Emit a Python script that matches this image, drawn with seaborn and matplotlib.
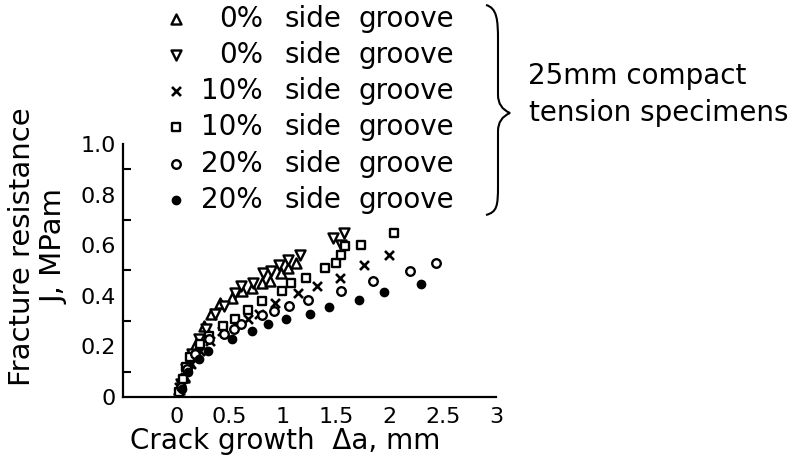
import matplotlib
matplotlib.use("Agg")
import matplotlib.pyplot as plt
from matplotlib.path import Path
from matplotlib.patches import PathPatch
from matplotlib.ticker import MultipleLocator
import seaborn as sns
import pandas as pd

# ---- data (crack growth in mm, J in MPa m) ----
tri_up_x = [0.03, 0.07, 0.12, 0.18, 0.26, 0.33, 0.41, 0.52, 0.62, 0.71, 0.80, 0.88, 0.98, 1.05, 1.12]
tri_up_y = [0.03, 0.08, 0.14, 0.20, 0.28, 0.33, 0.37, 0.39, 0.42, 0.43, 0.45, 0.46, 0.49, 0.51, 0.53]

tri_dn_x = [0.04, 0.09, 0.15, 0.21, 0.28, 0.36, 0.45, 0.55, 0.61, 0.72, 0.81, 0.89, 0.96, 1.05, 1.16, 1.47, 1.55, 1.57]
tri_dn_y = [0.05, 0.11, 0.17, 0.23, 0.27, 0.33, 0.36, 0.41, 0.44, 0.45, 0.49, 0.50, 0.52, 0.54, 0.56, 0.63, 0.60, 0.65]

cross_x = [0.03, 0.08, 0.14, 0.22, 0.32, 0.43, 0.55, 0.67, 0.78, 0.93, 1.14, 1.32, 1.54, 1.76, 2.00]
cross_y = [0.04, 0.08, 0.13, 0.18, 0.22, 0.26, 0.29, 0.31, 0.33, 0.37, 0.41, 0.44, 0.47, 0.52, 0.56]

square_x = [0.03, 0.06, 0.09, 0.13, 0.22, 0.31, 0.44, 0.55, 0.67, 0.80, 0.99, 1.08, 1.22, 1.40, 1.50, 1.55, 1.58, 1.73, 2.04]
square_y = [0.02, 0.07, 0.12, 0.16, 0.21, 0.24, 0.28, 0.31, 0.345, 0.38, 0.42, 0.45, 0.47, 0.51, 0.53, 0.56, 0.595, 0.60, 0.65]

ocirc_x = [0.04, 0.10, 0.18, 0.31, 0.45, 0.54, 0.61, 0.80, 0.92, 1.06, 1.24, 1.55, 1.85, 2.19, 2.44]
ocirc_y = [0.04, 0.11, 0.17, 0.23, 0.25, 0.27, 0.29, 0.325, 0.34, 0.36, 0.385, 0.42, 0.46, 0.50, 0.53]

fcirc_x = [0.05, 0.11, 0.21, 0.30, 0.52, 0.71, 0.86, 1.03, 1.25, 1.43, 1.71, 1.95, 2.30]
fcirc_y = [0.03, 0.10, 0.15, 0.18, 0.23, 0.26, 0.29, 0.31, 0.33, 0.355, 0.385, 0.415, 0.445]

legend_pct = ["0%", "0%", "10%", "10%", "20%", "20%"]
legend_w1 = "side"
legend_w2 = "groove"
x_ticks = [0, 0.5, 1, 1.5, 2, 2.5, 3]
x_tick_labels = ["0", "0.5", "1", "1.5", "2", "2.5", "3"]
y_ticks = [0, 0.2, 0.4, 0.6, 0.8, 1.0]
y_tick_labels = ["0", "0.2", "0.4", "0.6", "0.8", "1.0"]

sns.set_style("white")
plt.rcParams['font.family'] = ['DejaVu Sans']
plt.rcParams['text.color'] = 'black'
plt.rcParams['axes.labelcolor'] = 'black'
plt.rcParams['xtick.color'] = 'black'
plt.rcParams['ytick.color'] = 'black'

W, H = 806, 461
fig = plt.figure(figsize=(W / 100, H / 100), dpi=100)
ax = fig.add_axes([123 / W, 1 - 397 / H, (496 - 123) / W, (397 - 144) / H])

series = [
    (tri_up_x, tri_up_y, "^", "white", 52),
    (tri_dn_x, tri_dn_y, "v", "white", 52),
    (cross_x, cross_y, "x", "black", 42),
    (square_x, square_y, "s", "white", 40),
    (ocirc_x, ocirc_y, "o", "white", 38),
    (fcirc_x, fcirc_y, "o", "black", 28),
]
for xs, ys, m, fc, s in series:
    df = pd.DataFrame({"x": xs, "y": ys})
    if m == "x":
        sns.scatterplot(data=df, x="x", y="y", ax=ax, marker=m, color="black",
                        s=s, linewidth=1.9, zorder=3)
    else:
        sns.scatterplot(data=df, x="x", y="y", ax=ax, marker=m, facecolor=fc,
                        edgecolor="black", s=s, linewidth=1.7, zorder=3)

ax.set_xlim(-0.5, 3.0)
ax.set_ylim(0, 1.0)
ax.set_xticks(x_ticks)
ax.set_xticklabels(x_tick_labels)
ax.set_yticks(y_ticks)
ax.set_yticklabels(y_tick_labels)
ax.yaxis.set_minor_locator(MultipleLocator(0.1))
for sp in ["top", "right"]:
    ax.spines[sp].set_visible(False)
for sp in ["left", "bottom"]:
    ax.spines[sp].set_linewidth(1.6)
    ax.spines[sp].set_color("black")
ax.tick_params(axis="x", direction="in", length=8, width=1.5, labelsize=16, pad=7)
ax.tick_params(axis="y", which="major", direction="in", length=6, width=1.5, labelsize=16, pad=5)
ax.tick_params(axis="y", which="minor", direction="in", length=6, width=1.5, left=True)

ax.set_xlabel("Crack growth  Δa, mm", fontsize=20, va="center")
ax.xaxis.set_label_coords((285 - 123) / 373, -(441 - 397) / 253)
ax.set_ylabel("Fracture resistance\nJ, MPam", fontsize=21, linespacing=1.2, va="center")
ax.yaxis.set_label_coords(-(123 - 38) / 373, (397 - 247) / 253)

# ---- overlay for legend, brace and annotation (pixel coords) ----
ov = fig.add_axes([0, 0, 1, 1], facecolor="none")
ov.set_xlim(0, W)
ov.set_ylim(H, 0)
ov.axis("off")

rows_y = [19, 55, 91, 127, 164, 200]
for (xs, ys, m, fc, s), pct, ry in zip(series, legend_pct, rows_y):
    if m == "x":
        ov.scatter([176], [ry], marker=m, color="black", s=s, linewidth=1.9)
    else:
        ov.scatter([176], [ry], marker=m, facecolor=fc, edgecolor="black", s=s, linewidth=1.7)
    ov.text(263, ry, pct, ha="right", va="center", fontsize=20)
    ov.text(284, ry, legend_w1, ha="left", va="center", fontsize=20)
    ov.text(358, ry, legend_w2, ha="left", va="center", fontsize=20)

# curly brace
verts = [(486, 5), (497, 8), (498, 20), (498, 40),
         (498, 95), (498, 108), (510, 113),
         (498, 118), (498, 131), (498, 186),
         (498, 206), (497, 212), (486, 215)]
codes = [Path.MOVETO, Path.CURVE4, Path.CURVE4, Path.CURVE4,
         Path.LINETO, Path.CURVE3, Path.CURVE3,
         Path.CURVE3, Path.CURVE3, Path.LINETO,
         Path.CURVE4, Path.CURVE4, Path.CURVE4]
ov.add_patch(PathPatch(Path(verts, codes), facecolor="none", edgecolor="black", lw=1.5))

ov.text(528, 76, "25mm compact", ha="left", va="center", fontsize=20)
ov.text(529, 113, "tension specimens", ha="left", va="center", fontsize=20)

fig.savefig("out.png", dpi=100, facecolor="white")
